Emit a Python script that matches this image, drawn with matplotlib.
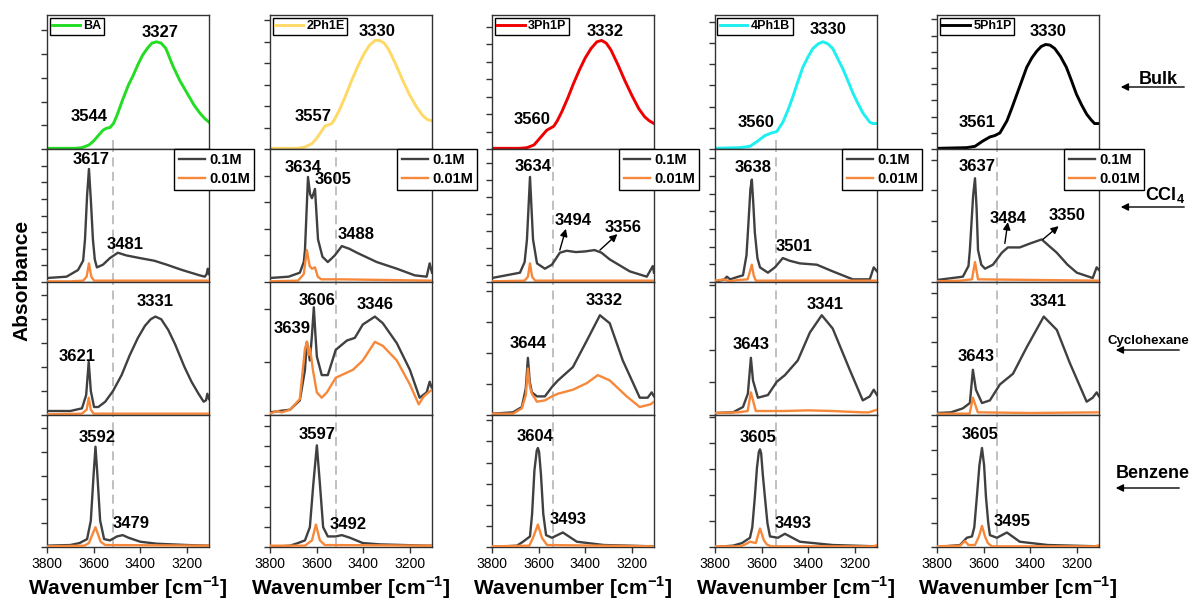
import numpy as np
import matplotlib
matplotlib.use("Agg")
import matplotlib.pyplot as plt

plt.rcParams['font.family'] = ['Liberation Sans', 'DejaVu Sans']
plt.rcParams['mathtext.fontset'] = 'custom'
plt.rcParams['mathtext.rm'] = 'Liberation Sans'
plt.rcParams['mathtext.bf'] = 'Liberation Sans:bold'

# Spectra: (wavenumber cm-1, absorbance, normalised to each panel)
compounds = ["BA", "2Ph1E", "3Ph1P", "4Ph1B", "5Ph1P"]
bulk_colors = ["#22dd22", "#ffd966", "#f00000", "#1eefef", "#000000"]
conc_labels = ["0.1M", "0.01M"]
solvents = ["Bulk", "CCl$_{\\mathbf{4}}$", "Cyclohexane", "Benzene"]
x_ticks = [3800, 3600, 3400, 3200]
dash_wn = [3517, 3517, 3539, 3539, 3543]

# --- BA ---
ba_bulk = [(3800, .005), (3680, .005), (3650, .01), (3620, .03), (3600, .06), (3580, .10), (3560, .14),
           (3545, .155), (3530, .16), (3515, .19), (3500, .25), (3475, .37), (3450, .48), (3430, .55),
           (3410, .63), (3390, .70), (3370, .75), (3350, .79), (3330, .80), (3310, .79), (3290, .75),
           (3260, .62), (3230, .51), (3200, .42), (3170, .33), (3145, .27), (3125, .23), (3105, .20)]
ba_ccl4_hi = [(3800, .03), (3716, .04), (3667, .09), (3645, .16), (3637, .32), (3628, .65), (3620, .85),
              (3612, .62), (3603, .32), (3595, .17), (3586, .11), (3560, .13), (3530, .18), (3496, .22),
              (3460, .20), (3402, .18), (3340, .16), (3286, .13), (3220, .09), (3145, .05), (3123, .04),
              (3115, .06), (3110, .10), (3105, .06)]
ba_ccl4_lo = [(3800, .005), (3700, .005), (3645, .01), (3630, .04), (3620, .14), (3610, .04), (3598, .01),
              (3105, .01)]
ba_chx_hi = [(3800, .03), (3700, .03), (3650, .05), (3632, .15), (3621, .40), (3612, .18), (3598, .06),
             (3580, .06), (3550, .10), (3517, .18), (3480, .30), (3445, .45), (3410, .58), (3380, .67),
             (3355, .72), (3335, .74), (3310, .72), (3280, .64), (3250, .53), (3210, .36), (3180, .25),
             (3150, .16), (3128, .10), (3118, .11), (3112, .16), (3105, .12)]
ba_chx_lo = [(3800, .005), (3650, .01), (3630, .04), (3621, .13), (3612, .04), (3600, .01), (3105, .01)]
ba_bz_hi = [(3800, .01), (3700, .015), (3660, .03), (3628, .06), (3612, .20), (3600, .55), (3592, .76),
            (3584, .55), (3572, .20), (3555, .06), (3530, .05), (3500, .08), (3475, .09), (3450, .07),
            (3400, .04), (3330, .025), (3200, .015), (3105, .01)]
ba_bz_lo = [(3800, .005), (3640, .01), (3620, .03), (3604, .10), (3592, .15), (3582, .10), (3570, .04),
            (3550, .015), (3105, .01)]

# --- 2Ph1E ---
p2_bulk = [(3800, .005), (3680, .005), (3650, .015), (3620, .04), (3600, .08), (3580, .13), (3565, .17),
           (3550, .18), (3535, .19), (3520, .23), (3500, .30), (3475, .40), (3450, .51), (3425, .61),
           (3400, .70), (3375, .77), (3350, .81), (3330, .81), (3310, .79), (3290, .74), (3260, .63),
           (3230, .51), (3200, .40), (3170, .31), (3145, .25), (3125, .22), (3105, .21)]
p2_ccl4_hi = [(3800, .03), (3720, .04), (3672, .07), (3655, .15), (3650, .24), (3637, .79), (3628, .66),
              (3620, .63), (3607, .70), (3594, .32), (3575, .19), (3552, .15), (3522, .20), (3492, .27),
              (3460, .25), (3427, .22), (3342, .15), (3256, .10), (3179, .05), (3128, .04), (3115, .14),
              (3105, .07)]
p2_ccl4_lo = [(3800, .005), (3680, .01), (3655, .06), (3642, .24), (3630, .12), (3620, .10), (3607, .11),
              (3595, .04), (3580, .02), (3500, .02), (3300, .015), (3105, .01)]
p2_chx_hi = [(3800, .02), (3760, .03), (3714, .04), (3672, .11), (3650, .34), (3642, .55), (3629, .41),
             (3620, .60), (3612, .81), (3605, .60), (3599, .44), (3578, .30), (3552, .30), (3518, .49),
             (3470, .56), (3436, .58), (3402, .68), (3350, .74), (3316, .69), (3256, .54), (3200, .34),
             (3158, .13), (3128, .17), (3115, .25), (3105, .20)]
p2_chx_lo = [(3800, .01), (3770, .03), (3750, .02), (3714, .04), (3672, .12), (3650, .50), (3641, .55),
             (3635, .45), (3628, .50), (3616, .34), (3599, .17), (3578, .13), (3556, .17), (3518, .28),
             (3444, .34), (3402, .41), (3350, .55), (3316, .52), (3256, .41), (3200, .23), (3162, .08),
             (3140, .14), (3120, .17), (3105, .19)]
p2_bz_hi = [(3800, .0), (3714, .01), (3680, .03), (3650, .05), (3629, .15), (3614, .48), (3599, .77),
            (3586, .48), (3572, .15), (3552, .08), (3518, .08), (3492, .09), (3457, .07), (3402, .03),
            (3330, .02), (3128, .01), (3105, .01)]
p2_bz_lo = [(3800, .01), (3650, .01), (3620, .05), (3603, .17), (3586, .05), (3565, .015), (3105, .01)]

# --- 3Ph1P ---
p3_bulk = [(3800, .005), (3680, .005), (3650, .01), (3620, .03), (3600, .07), (3580, .11), (3565, .14),
           (3550, .155), (3535, .17), (3520, .21), (3500, .28), (3475, .38), (3450, .49), (3425, .59),
           (3400, .68), (3375, .75), (3350, .80), (3330, .81), (3310, .79), (3290, .74), (3260, .63),
           (3230, .51), (3200, .40), (3170, .30), (3145, .24), (3125, .21), (3105, .19)]
p3_ccl4_hi = [(3800, .03), (3680, .07), (3660, .15), (3650, .32), (3637, .79), (3624, .32), (3607, .14),
              (3573, .10), (3543, .13), (3509, .22), (3480, .235), (3440, .225), (3400, .23), (3360, .24),
              (3330, .22), (3295, .17), (3209, .08), (3136, .04), (3110, .12), (3105, .07)]
p3_ccl4_lo = [(3800, .005), (3660, .01), (3646, .04), (3637, .14), (3628, .04), (3615, .01), (3105, .01)]
p3_chx_hi = [(3800, .01), (3710, .02), (3672, .06), (3655, .20), (3646, .43), (3638, .25), (3629, .17),
             (3607, .14), (3573, .14), (3543, .21), (3517, .26), (3453, .36), (3393, .56), (3337, .75),
             (3295, .69), (3239, .41), (3166, .13), (3132, .13), (3115, .17), (3105, .14)]
p3_chx_lo = [(3800, .01), (3710, .01), (3672, .05), (3655, .15), (3646, .35), (3638, .22), (3629, .16),
             (3607, .10), (3573, .11), (3543, .14), (3517, .16), (3453, .19), (3393, .24), (3346, .30),
             (3295, .26), (3222, .14), (3166, .06), (3120, .08), (3105, .10)]
p3_bz_hi = [(3800, .0), (3693, .01), (3667, .04), (3637, .08), (3628, .25), (3618, .58), (3608, .73),
            (3603, .75), (3598, .72), (3590, .55), (3580, .25), (3568, .09), (3543, .07), (3496, .11),
            (3436, .04), (3320, .015), (3105, .005)]
p3_bz_lo = [(3800, .005), (3640, .01), (3624, .07), (3603, .17), (3586, .07), (3564, .015), (3105, .005)]

# --- 4Ph1B ---
p4_bulk = [(3800, .005), (3693, .01), (3650, .02), (3616, .06), (3586, .10), (3557, .12), (3535, .13),
           (3509, .20), (3487, .29), (3466, .39), (3445, .50), (3423, .61), (3400, .69), (3380, .75),
           (3357, .785), (3337, .80), (3316, .785), (3295, .75), (3275, .68), (3252, .60), (3230, .51),
           (3209, .42), (3187, .34), (3166, .27), (3136, .20), (3122, .19), (3105, .19)]
p4_ccl4_hi = [(3800, .0), (3760, .02), (3749, .04), (3735, .02), (3700, .04), (3680, .05), (3665, .20),
              (3659, .37), (3648, .70), (3642, .77), (3636, .60), (3629, .37), (3618, .18), (3607, .11),
              (3573, .07), (3543, .11), (3509, .18), (3480, .16), (3436, .14), (3363, .13), (3295, .08),
              (3209, .02), (3136, .02), (3119, .11), (3105, .08)]
p4_ccl4_lo = [(3800, .01), (3760, .02), (3740, .005), (3700, .015), (3660, .02), (3650, .08), (3642, .13),
              (3634, .05), (3625, .01), (3105, .01)]
p4_chx_hi = [(3800, .015), (3723, .02), (3680, .06), (3659, .16), (3646, .43), (3637, .26), (3616, .13),
             (3573, .15), (3535, .25), (3500, .30), (3445, .41), (3393, .62), (3342, .75), (3295, .65),
             (3222, .34), (3166, .11), (3136, .14), (3119, .19), (3105, .15)]
p4_chx_lo = [(3800, .015), (3700, .02), (3660, .03), (3646, .17), (3625, .03), (3500, .03), (3400, .035),
             (3300, .03), (3166, .02), (3140, .02), (3105, .04)]
p4_bz_hi = [(3800, .0), (3723, .01), (3684, .03), (3650, .07), (3640, .15), (3629, .38), (3620, .60),
            (3612, .72), (3607, .74), (3602, .71), (3595, .55), (3586, .38), (3575, .18), (3564, .08),
            (3530, .07), (3500, .10), (3436, .04), (3295, .015), (3105, .005)]
p4_bz_lo = [(3800, .005), (3690, .005), (3670, .02), (3650, .04), (3625, .03), (3607, .14), (3590, .05),
            (3578, .02), (3560, .005), (3120, .005), (3105, .015)]

# --- 5Ph1P ---
p5_bulk = [(3800, .005), (3672, .01), (3637, .02), (3603, .06), (3573, .09), (3552, .10), (3530, .12),
           (3500, .21), (3480, .30), (3457, .41), (3436, .51), (3415, .61), (3393, .68), (3372, .73),
           (3353, .765), (3334, .78), (3315, .775), (3295, .75), (3270, .69), (3245, .61), (3223, .51),
           (3202, .41), (3180, .33), (3158, .26), (3140, .22), (3124, .19), (3105, .19)]
p5_ccl4_hi = [(3800, .015), (3689, .04), (3665, .12), (3659, .24), (3645, .65), (3637, .78), (3630, .55),
              (3624, .24), (3610, .13), (3594, .10), (3560, .13), (3522, .22), (3496, .26), (3445, .26),
              (3400, .29), (3351, .32), (3286, .22), (3240, .13), (3200, .07), (3132, .03), (3115, .11),
              (3105, .09)]
p5_ccl4_lo = [(3800, .005), (3700, .01), (3650, .02), (3637, .15), (3624, .02), (3105, .01)]
p5_chx_hi = [(3800, .015), (3740, .02), (3689, .05), (3659, .09), (3646, .34), (3633, .19), (3607, .09),
             (3573, .11), (3530, .23), (3474, .31), (3415, .51), (3342, .74), (3286, .64), (3230, .39),
             (3158, .10), (3132, .13), (3115, .17), (3105, .14)]
p5_chx_lo = [(3800, .01), (3660, .01), (3646, .13), (3625, .02), (3400, .015), (3105, .02)]
p5_bz_hi = [(3800, .0), (3701, .015), (3672, .07), (3650, .08), (3640, .15), (3629, .38), (3618, .62),
            (3607, .75), (3598, .62), (3590, .38), (3580, .18), (3573, .09), (3543, .07), (3500, .11),
            (3445, .04), (3325, .015), (3105, .005)]
p5_bz_lo = [(3800, .005), (3701, .01), (3680, .045), (3665, .015), (3637, .015), (3620, .08), (3607, .16),
            (3594, .08), (3582, .03), (3565, .005), (3120, .005), (3105, .015)]

bulk_spectra = [ba_bulk, p2_bulk, p3_bulk, p4_bulk, p5_bulk]
solution_spectra = [
    [(ba_ccl4_hi, ba_ccl4_lo), (ba_chx_hi, ba_chx_lo), (ba_bz_hi, ba_bz_lo)],
    [(p2_ccl4_hi, p2_ccl4_lo), (p2_chx_hi, p2_chx_lo), (p2_bz_hi, p2_bz_lo)],
    [(p3_ccl4_hi, p3_ccl4_lo), (p3_chx_hi, p3_chx_lo), (p3_bz_hi, p3_bz_lo)],
    [(p4_ccl4_hi, p4_ccl4_lo), (p4_chx_hi, p4_chx_lo), (p4_bz_hi, p4_bz_lo)],
    [(p5_ccl4_hi, p5_ccl4_lo), (p5_chx_hi, p5_chx_lo), (p5_bz_hi, p5_bz_lo)],
]

# peak labels: (text, x, y) per [column][row]
peak_labels = [
    [[("3327", 3316, .87), ("3544", 3620, .24)],
     [("3617", 3612, .92), ("3481", 3466, .28)],
     [("3331", 3337, .85), ("3621", 3672, .44)],
     [("3592", 3586, .83), ("3479", 3440, .18)]],
    [[("3330", 3342, .88), ("3557", 3616, .24)],
     [("3634", 3659, .86), ("3605", 3530, .77), ("3488", 3432, .36)],
     [("3606", 3599, .86), ("3639", 3706, .65), ("3346", 3350, .83)],
     [("3597", 3599, .85), ("3492", 3466, .17)]],
    [[("3332", 3316, .88), ("3560", 3629, .22)],
     [("3634", 3624, .87), ("3494", 3453, .46), ("3356", 3239, .41)],
     [("3332", 3320, .86), ("3644", 3646, .54)],
     [("3604", 3616, .84), ("3493", 3475, .21)]],
    [[("3330", 3316, .89), ("3560", 3624, .20)],
     [("3638", 3637, .86), ("3501", 3462, .27)],
     [("3341", 3329, .83), ("3643", 3646, .53)],
     [("3605", 3616, .83), ("3493", 3466, .18)]],
    [[("3330", 3325, .88), ("3561", 3629, .20)],
     [("3637", 3629, .87), ("3484", 3496, .48), ("3350", 3243, .50)],
     [("3341", 3325, .85), ("3643", 3633, .44)],
     [("3605", 3616, .85), ("3495", 3479, .19)]],
]
# arrows in the CCl4 panels: (tail, head)
ccl4_arrows = {2: [((3509, .24), (3483, .40)), ((3337, .24), (3262, .36))],
               4: [((3509, .29), (3496, .45)), ((3346, .32), (3278, .42))]}

tick_step = [[.177, .16, .13, .158, .121],
             [.125, .2, .128, .133, .23],
             [.18, .4, .233, .245, .184],
             [.18, .153, .16, .197, .184]]

# layout in pixels
W, H = 1195, 601
col_left = [47, 270, 492, 715, 937]
col_w = 162
row_top = [15, 149, 282, 415]
row_h = [134, 133, 133, 132]
gray = "#404040"
orange = "#f7883a"
edge = "#333333"


def xy(pairs):
    a = np.array(pairs, dtype=float)
    return a[:, 0], a[:, 1]


fig = plt.figure(figsize=(W / 100, H / 100), dpi=100)

for c in range(5):
    for r in range(4):
        ax = fig.add_axes([col_left[c] / W, 1 - (row_top[r] + row_h[r]) / H, col_w / W, row_h[r] / H])
        ax.set_xlim(3800, 3105)
        ax.set_ylim(0, 1)
        for s in ax.spines.values():
            s.set_color(edge)
            s.set_linewidth(1.0)
        ax.set_yticks(np.arange(0, 1.0, tick_step[r][c]))
        ax.tick_params(axis='y', direction='out', length=4, width=1, color=edge, labelleft=False)

        if r == 0:
            x, y = xy(bulk_spectra[c])
            ax.plot(x, y, color=bulk_colors[c], lw=2.1, label=compounds[c])
            leg = ax.legend(loc='upper left', bbox_to_anchor=(0, 1), borderaxespad=0.2,
                            prop={'weight': 'bold', 'size': 9}, handlelength=2.2,
                            handletextpad=0.3, borderpad=0.2, fancybox=False, framealpha=1)
            leg.get_frame().set_edgecolor('black')
            leg.get_frame().set_linewidth(1.0)
            ax.axvline(dash_wn[c], ymax=0.07, color='#bbbbbb', ls=(0, (5, 3)), lw=1.3, zorder=0.5)
        else:
            hi, lo = solution_spectra[c][r - 1]
            x, y = xy(hi)
            ax.plot(x, y, color=gray, lw=1.7, label=conc_labels[0], zorder=3)
            x, y = xy(lo)
            ax.plot(x, y, color=orange, lw=1.7, label=conc_labels[1], zorder=3)
            ax.axvline(dash_wn[c], color='#bbbbbb', ls=(0, (5, 3)), lw=1.3, zorder=0.5)
            if r == 1:
                leg = ax.legend(loc='upper left', bbox_to_anchor=(0.785, 1.0), borderaxespad=0,
                                prop={'weight': 'bold', 'size': 10.5}, handlelength=1.8,
                                handletextpad=0.3, borderpad=0.3, labelspacing=0.3,
                                fancybox=False, framealpha=1)
                leg.get_frame().set_edgecolor('black')
                leg.get_frame().set_linewidth(1.0)
                for (tx, ty), (hx, hy) in ccl4_arrows.get(c, []):
                    ax.annotate('', xy=(hx, hy), xytext=(tx, ty),
                                arrowprops=dict(arrowstyle='-|>', color='black', lw=1.0,
                                                mutation_scale=11, shrinkA=0, shrinkB=0))

        for txt, lx, ly in peak_labels[c][r]:
            ax.text(lx, ly, txt, ha='center', va='center', fontsize=12, fontweight='bold', zorder=6)

        if r == 3:
            ax.set_xticks(x_ticks)
            ax.tick_params(axis='x', direction='out', length=4, width=1, color=edge, labelsize=10)
            ax.set_xlabel("Wavenumber [cm$^{\\mathbf{-1}}$]", fontsize=15, fontweight='bold', labelpad=2)
        else:
            ax.set_xticks([])

fig.text(22 / W, 1 - 280 / H, "Absorbance", rotation=90, ha='center', va='center',
         fontsize=15, fontweight='bold')

# solvent labels with arrows on the right
side_text = [(1158, 79, 13), (1165, 195, 13), (1148, 341, 9.5), (1153, 473, 13)]
side_arrow = [(1187, 1118, 87), (1187, 1118, 207), (1182, 1113, 350), (1182, 1113, 488)]
for name, (tx, ty, fs), (x0, x1, ay) in zip(solvents, side_text, side_arrow):
    fig.text(tx / W, 1 - ty / H, name, ha='center', va='center', fontsize=fs, fontweight='bold')
    fig.add_artist(matplotlib.patches.FancyArrowPatch(
        (x0 / W, 1 - ay / H), (x1 / W, 1 - ay / H), transform=fig.transFigure,
        arrowstyle='-|>', mutation_scale=11, color='black', lw=1.0))

fig.savefig("out.png", dpi=100)
